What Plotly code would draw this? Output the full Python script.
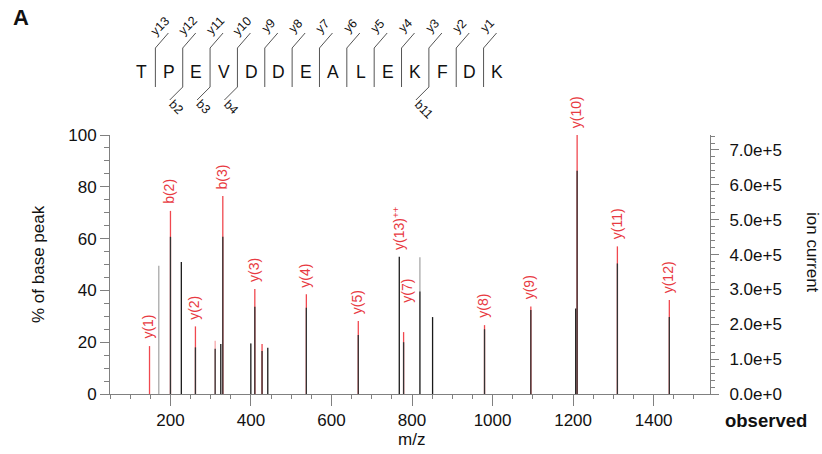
import plotly.graph_objects as go

# ---------------- data ----------------
peak_mz = [148, 171, 200, 227, 262, 311, 325, 330, 399.5, 409.5, 427.5, 441.7,
           537.5, 666.5, 768.3, 779, 819.5, 851, 980, 1095, 1206.5, 1210, 1310, 1439]
peak_int = [18.5, 49.5, 70.7, 51, 26.1, 20.6, 19.3, 76.4, 19.5, 40.5, 19.3, 17.9,
            38.5, 28.2, 53, 23.9, 52.8, 29.7, 26.6, 33.8, 33, 100, 57, 36.3]
# colour class of the upper part of each peak: r = red, p = pale red, k = black, g = grey
peak_top = ["r", "g", "r", "k", "r", "p", "k", "r", "g", "r", "r", "k",
            "r", "r", "k", "r", "g", "k", "r", "r", "k", "r", "r", "r"]
# height of the dark lower part of each peak
peak_dark = [0, 0, 60.7, 51, 18, 17.5, 19.3, 60.7, 19.5, 33.7, 16.6, 17.9,
             33.3, 22.8, 53, 20, 39.6, 29.7, 25, 32.4, 33, 86.2, 50.4, 29.7]
peak_label = ["y(1)", "", "b(2)", "", "y(2)", "", "", "b(3)", "", "y(3)", "", "",
              "y(4)", "y(5)", "y(13)<sup>++</sup>", "y(7)", "", "", "y(8)", "y(9)", "",
              "y(10)", "y(11)", "y(12)"]

sequence = list("TPEVDDEALEKFDK")
b_ions = [2, 3, 4, 11]          # b-ion cleavages observed (after residue n)
y_ions = list(range(13, 0, -1))  # y-ions at each cleavage from left

right_max = 7.43e5   # ion current at 100 % base peak
x_range = [25, 1540]

# ---------------- geometry helpers ----------------
PL, PR, PT, PB = 100, 710, 135, 394   # plot area in pixels
W, H = 822, 454


def px(x):
    return (x - PL) / (PR - PL)


def py(y):
    return (PB - y) / (PB - PT)


RED = "#f0484f"
LBL = "#e83a42"
fig = go.Figure()

col = {"r": RED, "p": "#f6a8aa", "k": "#1a1a1a", "g": "#a8a8a8"}
for cls in ["g", "p", "r", "k"]:
    xs, ys = [], []
    for m, h, c in zip(peak_mz, peak_int, peak_top):
        if c == cls:
            xs += [m, m, None]
            ys += [0, h, None]
    if xs:
        fig.add_trace(go.Scatter(x=xs, y=ys, mode="lines", line=dict(color=col[cls], width=1.3),
                                 hoverinfo="skip", showlegend=False))
# dark lower parts
xs, ys = [], []
for m, d, c in zip(peak_mz, peak_dark, peak_top):
    if d > 0 and c != "k":
        xs += [m, m, None]
        ys += [0, d, None]
fig.add_trace(go.Scatter(x=xs, y=ys, mode="lines", line=dict(color="#333333", width=1.3),
                         hoverinfo="skip", showlegend=False))

# invisible trace for right axis
fig.add_trace(go.Scatter(x=[x_range[0]], y=[0], yaxis="y2", mode="markers",
                         marker=dict(opacity=0), hoverinfo="skip", showlegend=False))

annotations = []
nudge = {"y(7)": (4, 22)}
for m, h, lab in zip(peak_mz, peak_int, peak_label):
    if not lab:
        continue
    dx, dy = nudge.get(lab, (-1, 0))
    annotations.append(dict(x=m, y=h, xref="x", yref="y", text=lab, showarrow=False,
                            textangle=-90, xanchor="center", yanchor="bottom",
                            xshift=dx, yshift=5 + dy,
                            font=dict(size=14, color=LBL, family="Liberation Sans, Arial")))

# ---------------- peptide diagram ----------------
shapes = []
x0_letter, step = 141.7, 27.35
line_col = "#555555"
for i, aa in enumerate(sequence):
    cx = x0_letter + i * step
    annotations.append(dict(x=px(cx), y=py(72), xref="paper", yref="paper", text=aa,
                            showarrow=False, xanchor="center", yanchor="middle",
                            font=dict(size=17.5, color="#111111", family="Liberation Sans, Arial")))
for k in range(len(sequence) - 1):
    sx = x0_letter + (k + 0.5) * step
    shapes.append(dict(type="line", xref="paper", yref="paper", x0=px(sx), x1=px(sx),
                       y0=py(48), y1=py(87), line=dict(color=line_col, width=1)))
    # y ion
    shapes.append(dict(type="line", xref="paper", yref="paper", x0=px(sx), x1=px(sx + 13),
                       y0=py(48), y1=py(33), line=dict(color=line_col, width=1)))
    yl = "y%d" % y_ions[k]
    annotations.append(dict(x=px(sx + (5 if len(yl) > 2 else 3.5)), y=py(26), xref="paper", yref="paper",
                            text=yl, showarrow=False, textangle=-45, xanchor="center", yanchor="middle",
                            font=dict(size=12.5, color="#111111", family="Liberation Sans, Arial")))
    n = k + 1
    if n in b_ions:
        shapes.append(dict(type="line", xref="paper", yref="paper", x0=px(sx), x1=px(sx - 13),
                           y0=py(87), y1=py(100), line=dict(color=line_col, width=1)))
        bl = "b%d" % n
        half = 0.707 * 0.5 * 12 * 0.556 * len(bl)
        annotations.append(dict(x=px(sx - 13 + half + 1.5), y=py(100 + half + 2.5), xref="paper", yref="paper",
                                text=bl, showarrow=False, textangle=45, xanchor="center", yanchor="middle",
                                font=dict(size=12.5, color="#111111", family="Liberation Sans, Arial")))

# ---------------- other texts ----------------
txt = dict(family="Liberation Sans, Arial", color="#111111")
annotations += [
    dict(x=px(21.3), y=py(17.5), xref="paper", yref="paper", text="<b>A</b>", showarrow=False,
         xanchor="center", yanchor="middle", font=dict(size=22, **txt)),
    dict(x=px(723), y=py(420), xref="paper", yref="paper", text="<b>observed</b>", showarrow=False,
         xanchor="left", yanchor="middle", font=dict(size=18.5, **txt)),
    dict(x=px(411), y=py(439), xref="paper", yref="paper", text="m/z", showarrow=False,
         xanchor="center", yanchor="middle", font=dict(size=17, **txt)),
    dict(x=px(38), y=py(264), xref="paper", yref="paper", text="% of base peak", showarrow=False,
         textangle=-90, xanchor="center", yanchor="middle", font=dict(size=17, **txt)),
    dict(x=px(813), y=py(253), xref="paper", yref="paper", text="ion current", showarrow=False,
         textangle=90, xanchor="center", yanchor="middle", font=dict(size=17, **txt)),
]

axcol = "#808080"
tickfont = dict(size=17, color="#111111", family="Liberation Sans, Arial")
fig.update_layout(
    width=W, height=H, margin=dict(l=PL, r=W - PR, t=PT, b=H - PB),
    paper_bgcolor="white", plot_bgcolor="white",
    xaxis=dict(range=x_range, showgrid=False, zeroline=False, showline=True, linecolor=axcol, linewidth=1,
               tickmode="array", tickvals=[200, 400, 600, 800, 1000, 1200, 1400],
               ticks="outside", ticklen=11, tickcolor=axcol, tickwidth=1, tickfont=tickfont,
               ticklabelstandoff=0,
               minor=dict(dtick=50, tick0=0, ticks="outside", ticklen=4, tickcolor=axcol, showgrid=False)),
    yaxis=dict(range=[0, 100], showgrid=False, zeroline=False, showline=True, linecolor=axcol, linewidth=1,
               anchor="free", position=9 / (PR - PL),
               dtick=20, ticks="outside", ticklen=9, tickcolor=axcol, tickfont=tickfont,
               minor=dict(dtick=5, ticks="outside", ticklen=5, tickcolor=axcol, showgrid=False)),
    yaxis2=dict(range=[0, right_max], overlaying="y", side="right", anchor="x", showgrid=False, zeroline=False,
                showline=True, linecolor=axcol, linewidth=1, dtick=1e5, tickformat=".1e",
                ticks="outside", ticklen=8, tickcolor=axcol, tickfont=tickfont, ticklabelstandoff=7,
                minor=dict(dtick=2e4, ticks="outside", ticklen=4, tickcolor=axcol, showgrid=False)),
    shapes=shapes, annotations=annotations, showlegend=False,
)

fig.write_html("out.html")
